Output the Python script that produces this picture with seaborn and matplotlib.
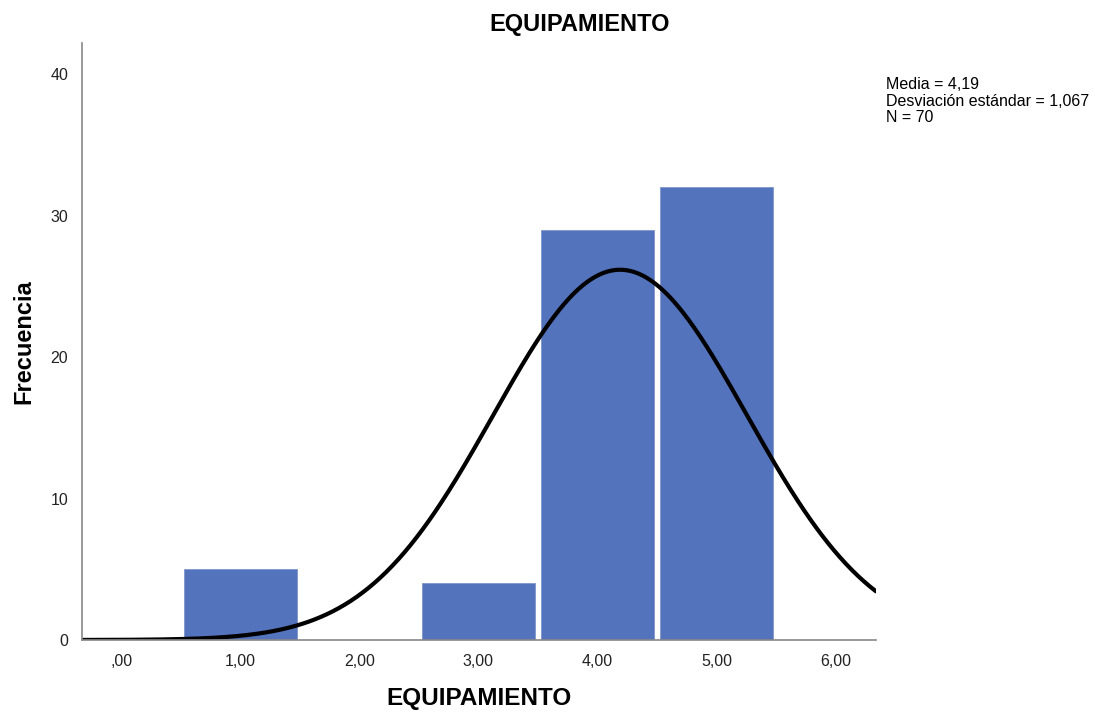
import numpy as np
import pandas as pd
import matplotlib
matplotlib.use("Agg")
import matplotlib.pyplot as plt
import seaborn as sns

# Frequencies of EQUIPAMIENTO scores
valores = [1, 3, 4, 5]
frecuencias = [5, 4, 29, 32]

media = 4.19
desviacion = 1.067
n_total = 70

x_ticks = [0, 1, 2, 3, 4, 5, 6]
x_tick_labels = [",00", "1,00", "2,00", "3,00", "4,00", "5,00", "6,00"]
y_ticks = [0, 10, 20, 30, 40]
y_tick_labels = ["0", "10", "20", "30", "40"]

sns.set_theme(style="white")
plt.rcParams["font.family"] = ["Liberation Sans", "DejaVu Sans"]

fig = plt.figure(figsize=(10.95, 7.13), dpi=100)
ax = fig.add_axes([0.0749, 0.1024, 0.7251, 0.8373])

df = pd.DataFrame({"valor": valores, "frecuencia": frecuencias})
sns.histplot(data=df, x="valor", weights="frecuencia", discrete=True,
             shrink=0.945, color="#5373BC", alpha=1.0, edgecolor="#7f96cc",
             linewidth=0.6, ax=ax)

# Fitted normal curve scaled to counts (bin width = 1)
xmin, xmax = -0.33, 6.34
xs = np.linspace(xmin, xmax, 400)
ys = n_total * np.exp(-0.5 * ((xs - media) / desviacion) ** 2) / (desviacion * np.sqrt(2 * np.pi))
sns.lineplot(x=xs, y=ys, color="black", linewidth=3.0, ax=ax)

ax.set_xlim(xmin, xmax)
ax.set_ylim(0, 42.2)
ax.set_xticks(x_ticks)
ax.set_xticklabels(x_tick_labels, fontsize=11.5, color="#222222")
ax.set_yticks(y_ticks)
ax.set_yticklabels(y_tick_labels, fontsize=11.5, color="#222222")
ax.tick_params(axis="both", length=0, pad=10)

for side in ["top", "right"]:
    ax.spines[side].set_visible(False)
for side in ["left", "bottom"]:
    ax.spines[side].set_color("#888888")
    ax.spines[side].set_linewidth(1.2)

ax.set_xlabel("EQUIPAMIENTO", fontsize=17.5, fontweight="bold", labelpad=13, color="black")
ax.set_ylabel("Frecuencia", fontsize=17, fontweight="bold", labelpad=11, color="black")

fig.text(580 / 1095, 1 - 25 / 713, "EQUIPAMIENTO", ha="center", va="center",
         fontsize=17, fontweight="bold", color="black")

fig.text(886 / 1095, 1 - 77 / 713,
         "Media = 4,19\nDesviación estándar = 1,067\nN = 70",
         ha="left", va="top", fontsize=11.5, color="black", linespacing=1.13)

fig.savefig("out.png", dpi=100)
